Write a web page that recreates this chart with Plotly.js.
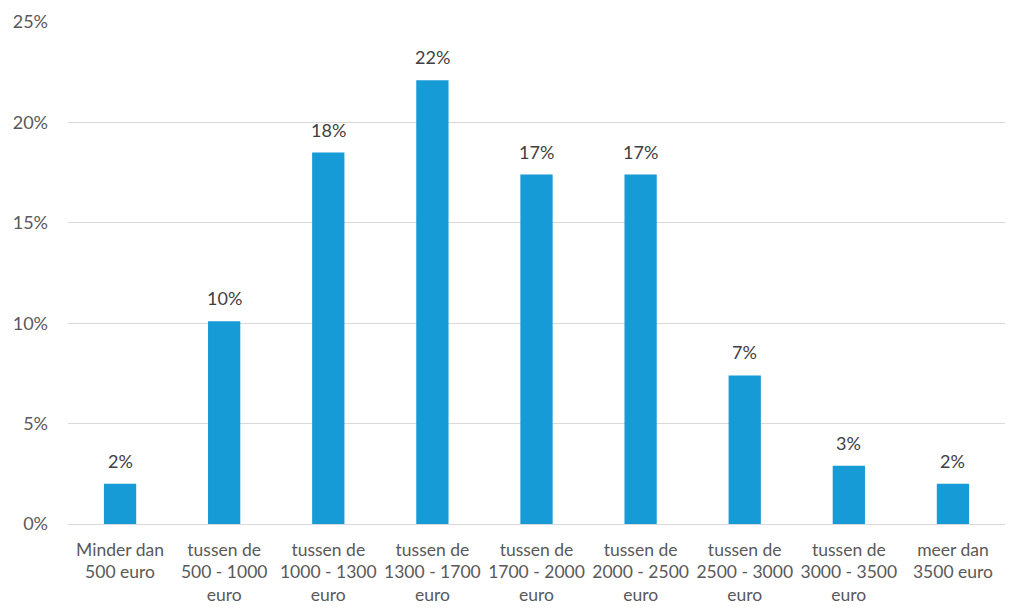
<!DOCTYPE html>
<html>
<head>
<meta charset="utf-8">
<script src="https://cdn.plot.ly/plotly-3.0.1.min.js"></script>
<style>html,body{margin:0;padding:0;background:#fff;}#chart{width:1009px;height:611px;}</style>
</head>
<body>
<div id="chart"></div>
<script>
var categories = [
  "Minder dan<br>500 euro",
  "tussen de<br>500 - 1000<br>euro",
  "tussen de<br>1000 - 1300<br>euro",
  "tussen de<br>1300 - 1700<br>euro",
  "tussen de<br>1700 - 2000<br>euro",
  "tussen de<br>2000 - 2500<br>euro",
  "tussen de<br>2500 - 3000<br>euro",
  "tussen de<br>3000 - 3500<br>euro",
  "meer dan<br>3500 euro"
];
var values = [2.0, 10.1, 18.5, 22.1, 17.4, 17.4, 7.4, 2.9, 2.0];
var labels = ["2%", "10%", "18%", "22%", "17%", "17%", "7%", "3%", "2%"];
var yTicks = [0, 5, 10, 15, 20, 25];
var yTickLabels = ["0%", "5%", "10%", "15%", "20%", "25%"];

var FONT = "Lato, 'Open Sans', sans-serif";

var trace = {
  type: "bar",
  x: categories,
  y: values,
  marker: {color: "#179BD7"},
  hoverinfo: "none"
};

var annotations = categories.map(function (c, i) {
  return {
    x: c, y: values[i], xref: "x", yref: "y",
    text: labels[i], showarrow: false,
    yanchor: "bottom", yshift: 10,
    font: {family: FONT, size: 18, color: "#404040"}
  };
});

var layout = {
  width: 1009,
  height: 611,
  margin: {l: 68, r: 4, t: 22, b: 87},
  paper_bgcolor: "#ffffff",
  plot_bgcolor: "#ffffff",
  bargap: 0.69,
  showlegend: false,
  font: {family: FONT, size: 18, color: "#595959"},
  annotations: annotations,
  xaxis: {
    type: "category",
    showgrid: false,
    showline: false,
    ticks: "",
    tickangle: 0,
    automargin: false,
    ticklabelstandoff: 13,
    tickfont: {size: 17.5, color: "#595959"},
    fixedrange: true
  },
  yaxis: {
    range: [0, 25],
    tickvals: yTicks,
    ticktext: yTickLabels,
    showgrid: true,
    gridcolor: "#d9d9d9",
    gridwidth: 1,
    zeroline: true,
    zerolinecolor: "#d9d9d9",
    zerolinewidth: 1,
    showline: false,
    ticks: "",
    ticklabelstandoff: 19,
    tickfont: {size: 18, color: "#595959"},
    fixedrange: true
  }
};

Plotly.newPlot("chart", [trace], layout, {displayModeBar: false, staticPlot: true});
</script>
</body>
</html>
